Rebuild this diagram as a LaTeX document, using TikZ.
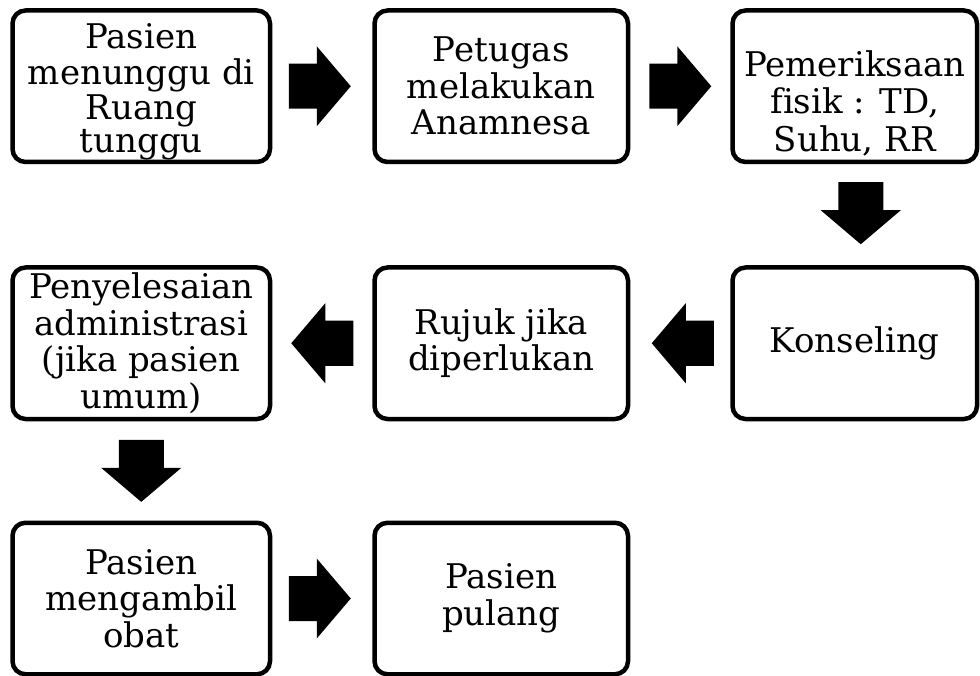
\documentclass[tikz,border=0pt]{standalone}
\usepackage{fontspec}
\setmainfont[Ligatures=NoCommon]{DejaVu Serif}
\usetikzlibrary{calc}
\newcommand{\shiftdown}[3]{\fontsize{34}{#2}\selectfont\raisebox{-#1}[\height][\depth]{\begin{tabular}{@{}c@{}}#3\end{tabular}}}
\tikzset{
  x=1pt,y=1pt,
  flowbox/.style={draw=black, line width=4.5pt, rounded corners=13pt,
    minimum height=151.5pt, align=center, inner sep=0pt,
    font=\fontsize{34}{36.5}\selectfont},
  blockarrow/.pic={
    \fill[black] (-31,-22.5) -- (-3,-22.5) -- (-3,-40) -- (31,0)
      -- (-3,40) -- (-3,22.5) -- (-31,22.5) -- cycle;
  }
}
\begin{document}
\begin{tikzpicture}
\useasboundingbox (0,0) rectangle (980,-676);
% row 1
\node[flowbox, minimum width=257.5pt] (a1) at (141.25,-86.25) {\shiftdown{7pt}{33.5pt}{Pasien\\menunggu di\\Ruang\\tunggu}};
\node[flowbox, minimum width=253.5pt] (b1) at (501.25,-86.25) {Petugas\\melakukan\\Anamnesa};
\node[flowbox, minimum width=244.5pt] (c1) at (854.75,-86.25) {\shiftdown{20pt}{37.5pt}{Pemeriksaan\\fisik : TD,\\Suhu, RR}};
% row 2
\node[flowbox, minimum width=257.5pt] (a2) at (141.25,-343.25) {Penyelesaian\\administrasi\\(jika pasien\\umum)};
\node[flowbox, minimum width=253.5pt] (b2) at (501.25,-343.25) {Rujuk jika\\diperlukan};
\node[flowbox, minimum width=244.5pt] (c2) at (854.75,-343.25) {Konseling};
% row 3
\node[flowbox, minimum width=257.5pt] (a3) at (141.25,-598.5) {Pasien\\mengambil\\obat};
\node[flowbox, minimum width=253.5pt] (b3) at (501.25,-598.5) {Pasien\\pulang};
% arrows
\pic[xshift=-2.5pt] at ($(a1.east)!0.5!(b1.west)$) {blockarrow};
\pic at ($(b1.east)!0.5!(c1.west)$) {blockarrow};
\pic[rotate=-90, xshift=-1.5pt, yshift=6pt] at ($(c1.south)!0.5!(c2.north)$) {blockarrow};
\pic[rotate=180, xshift=-2.5pt] at ($(c2.west)!0.5!(b2.east)$) {blockarrow};
\pic[rotate=180] at ($(b2.west)!0.5!(a2.east)$) {blockarrow};
\pic[rotate=-90] at ($(a2.south)!0.5!(a3.north)$) {blockarrow};
\pic[xshift=-2.5pt] at ($(a3.east)!0.5!(b3.west)$) {blockarrow};
\end{tikzpicture}
\end{document}
